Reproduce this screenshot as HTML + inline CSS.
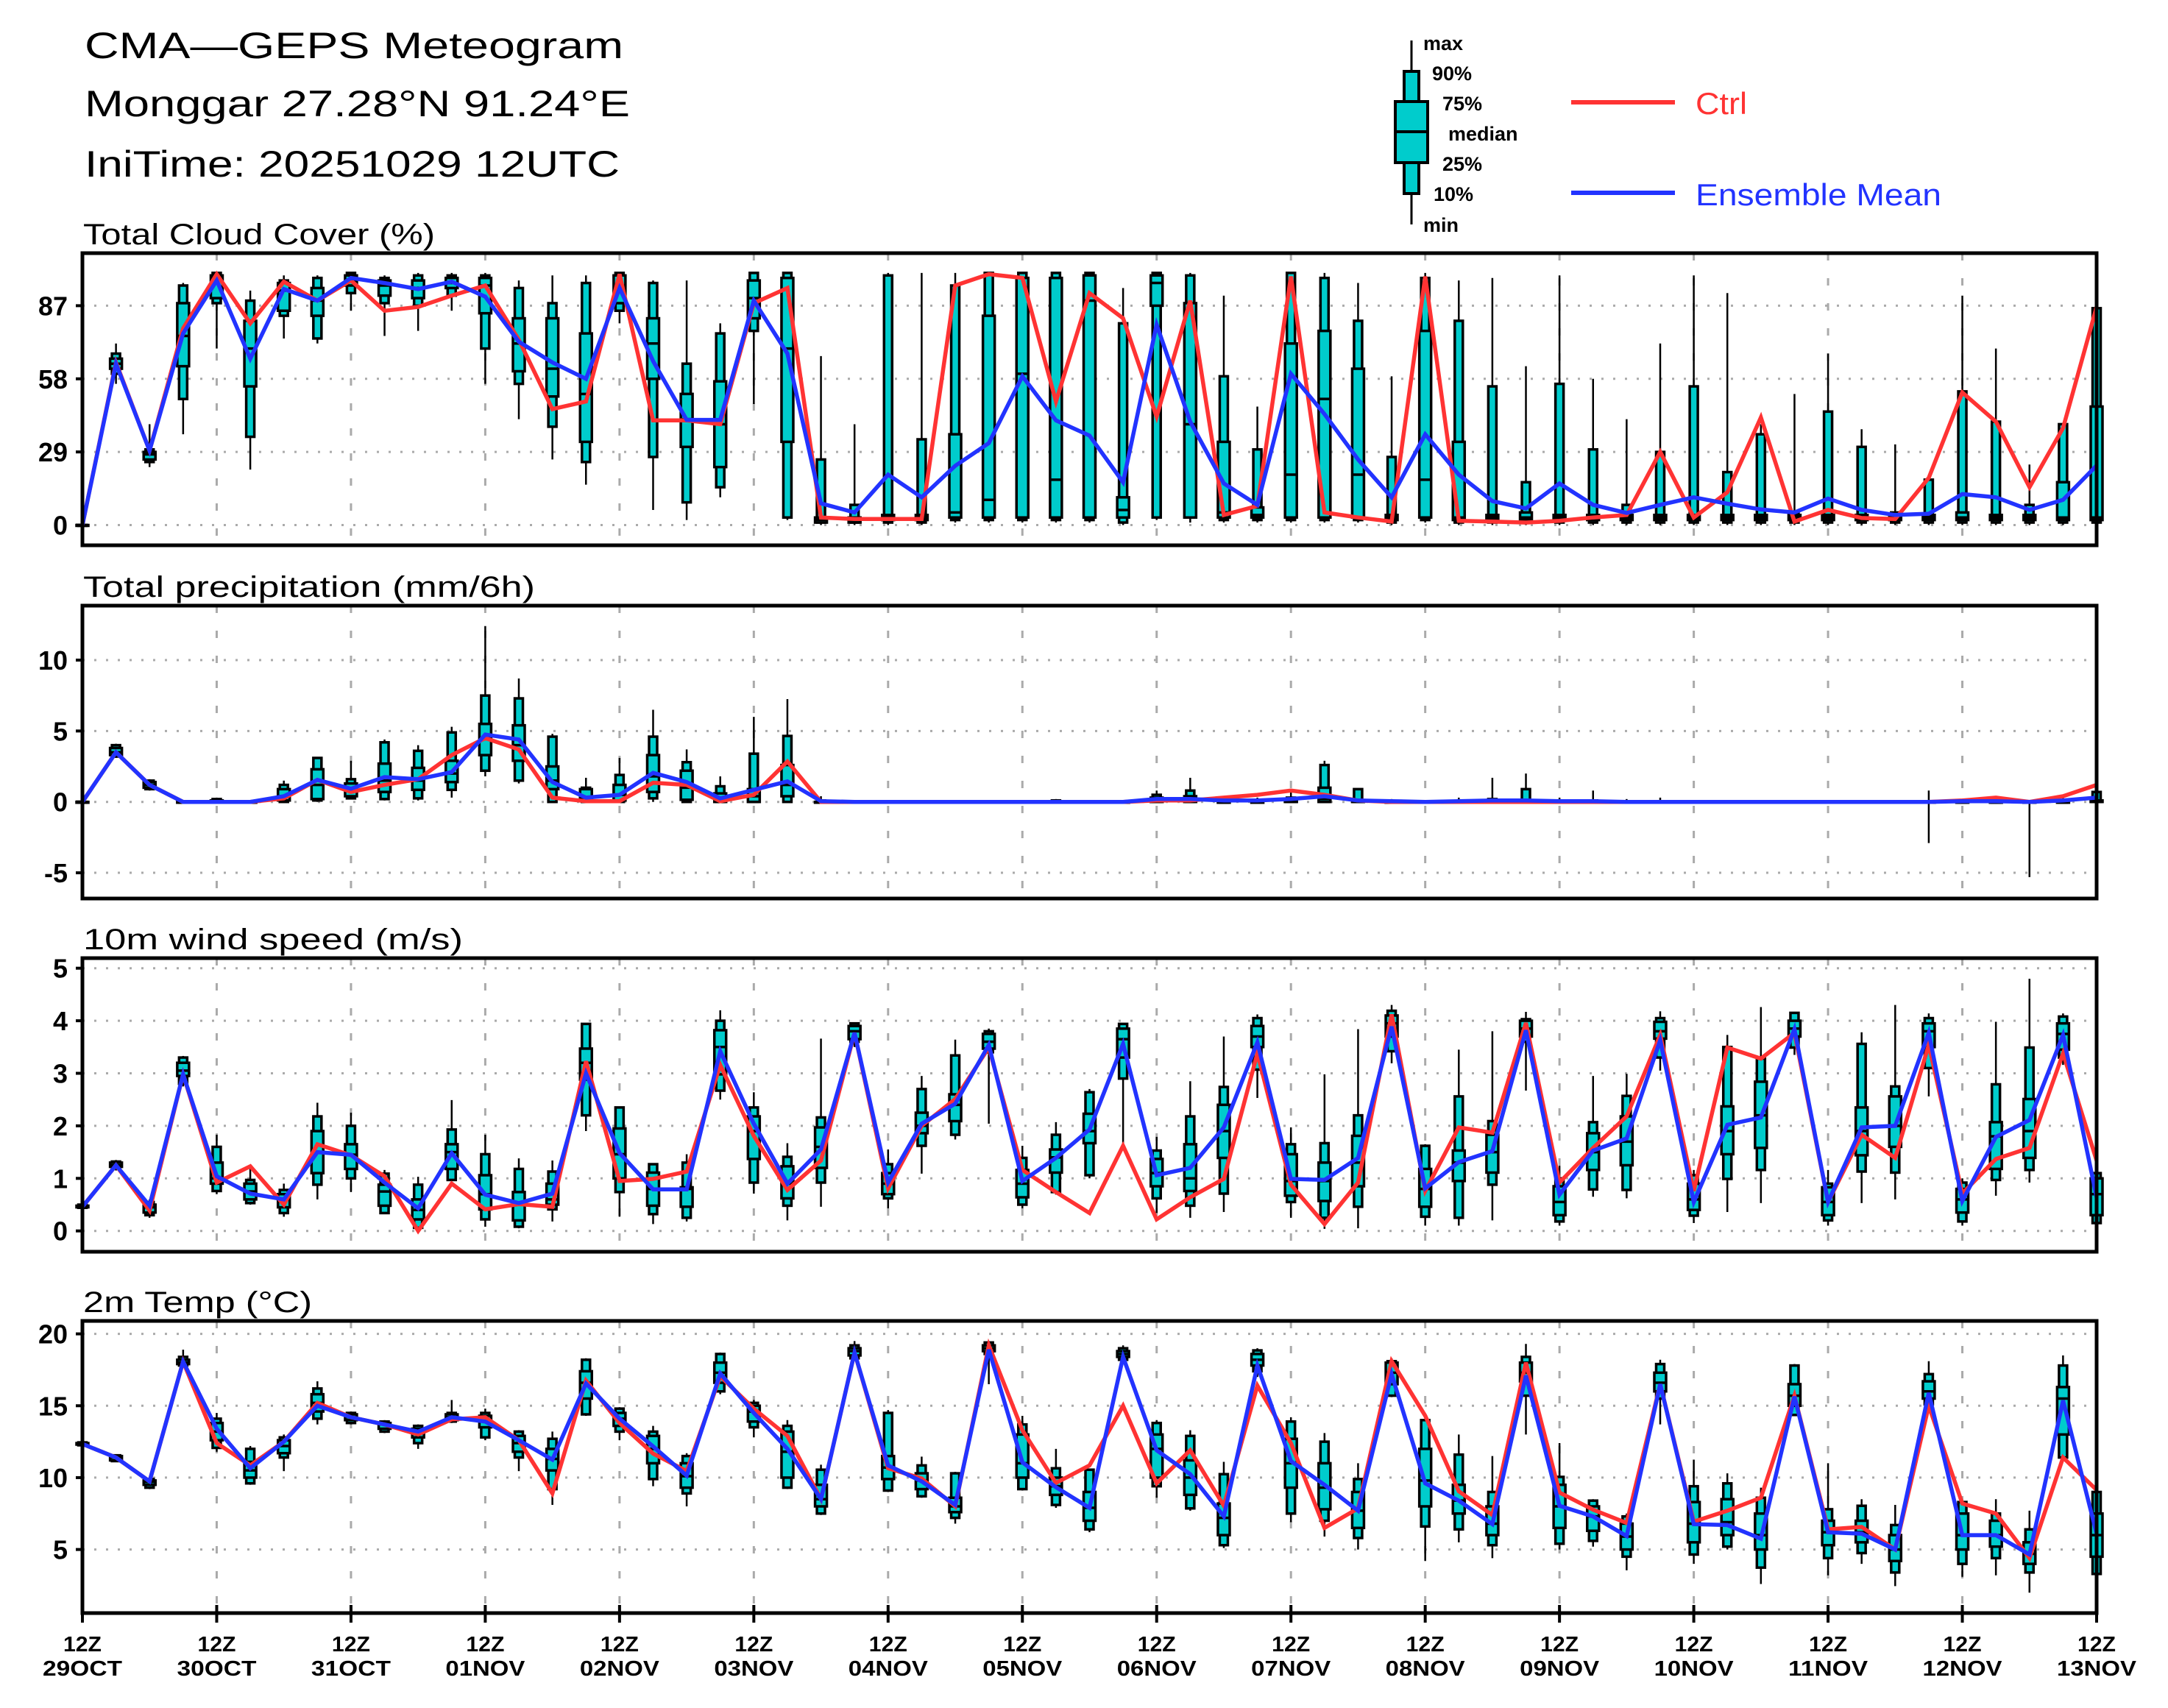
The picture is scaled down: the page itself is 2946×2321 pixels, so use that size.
<!DOCTYPE html>
<html><head><meta charset="utf-8"><title>CMA-GEPS Meteogram</title>
<style>
html,body{margin:0;padding:0;background:#fff;}
svg{display:block;font-family:"Liberation Sans",sans-serif;}
</style></head>
<body>
<svg id="chart" xmlns="http://www.w3.org/2000/svg" width="2946" height="2321" viewBox="0 0 2946 2321">
<rect x="0" y="0" width="2946" height="2321" fill="#fff"/>
<text x="115" y="79" font-size="50" textLength="732" lengthAdjust="spacingAndGlyphs">CMA—GEPS Meteogram</text>
<text x="115" y="158" font-size="50" textLength="741" lengthAdjust="spacingAndGlyphs">Monggar 27.28°N 91.24°E</text>
<text x="115" y="240" font-size="50" textLength="727" lengthAdjust="spacingAndGlyphs">IniTime: 20251029 12UTC</text>
<g id="legend"></g>
<g id="panels"></g>
</svg>
<script>
const NS = "http://www.w3.org/2000/svg";
// ---- data ----
const timeLabels = ["29OCT","30OCT","31OCT","01NOV","02NOV","03NOV","04NOV","05NOV","06NOV","07NOV","08NOV","09NOV","10NOV","11NOV","12NOV","13NOV"];
const cloudCtrl = [0,64.5,29.5,78,99.5,80,96.5,89,97,85,86.5,91,95,73.5,46,49,99.5,41.5,41.5,40,88,94,3,2.4,2.4,2.4,95,99.5,98,49,92,82,43,89,4,7.6,98.6,5,3,1.4,98.6,1.7,1.4,1,1.7,3,4,29,3,13,42.7,1.4,6,2.8,2.4,18.7,52.6,41,15,38.5,86.5];
const cloudMean = [0,64,29.5,76,97,66,93.6,89,98,96,93.6,96.5,90.6,72.7,64.5,58,94,65,41.7,41.7,89,68,8.6,5,20,11,23.5,32.5,59,41.5,35.5,17,79.5,41,16.5,8,60,44,26,11,36,20,9.5,6.6,16.5,8,4.8,8,11,8.5,6.2,5,10.5,6,4,4.5,12.3,11,6,10,23.6];
const cloudBox = [[0,0,0,0,0,0,0],[56,60,62,64,66,68,72],[23,25,26,28,29,30,40],[36,50,63,75,88,95,96],[70,88,90,98,99,100,100],[22,35,55,70,81,89,93],[74,83,85,93,96,97,99],[72,74,83,89,94,98,99],[85,92,95,97,99,100,100],[75,88,91,95,97,98,99],[77,87,90,94,97,99,100],[85,91,94,96,98,99,100],[56,70,84,95,98,99,100],[42,56,61,72,82,94,97],[26,39,51,62,82,88,99],[16,25,33,52,76,96,99],[80,85,88,95,99,100,100],[6,27,58,72,82,96,97],[2,9,31,42,52,64,97],[11,15,23,40,57,76,80],[48,77,82,90,97,100,100],[2,3,33,70,98,100,100],[0,1,1,2,3,26,67],[0,1,1,2,3,8,40],[0,1,2,3,4,99,100],[0,1,2,3,4,34,100],[1,2,3,5,36,95,100],[1,2,3,10,83,100,100],[1,2,3,60,98,100,100],[1,2,3,18,98,100,100],[1,2,3,89,99,100,100],[0,1,3,6,11,80,94],[2,3,87,96,99,100,100],[1,3,3,40,88,99,100],[1,2,3,5,33,59,91],[1,2,3,4,7,30,47],[1,2,3,20,72,100,100],[1,2,3,50,77,98,100],[1,2,3,20,62,81,96],[0,1,2,3,4,27,59],[1,2,3,18,77,98,100],[0,1,2,3,33,81,97],[0,1,2,3,4,55,98],[0,1,2,3,5,17,63],[0,1,2,3,4,56,99],[0,1,2,3,4,30,58],[0,1,2,3,4,8,42],[0,1,2,3,4,29,72],[0,1,2,3,4,55,99],[0,1,2,3,4,21,92],[0,1,2,3,4,36,40],[0,1,2,3,4,5,52],[0,1,2,3,4,45,68],[0,1,2,3,4,31,38],[0,1,2,3,4,5,32],[0,1,2,3,4,18,18],[0,1,2,3,5,53,91],[0,1,2,3,4,41,70],[0,1,2,3,4,8,24],[0,1,2,3,17,40,40],[0,1,2,3,47,86,87]];
const precCtrl = [0,3.5,1.2,0,0,0,0.25,1.55,0.7,1.2,1.6,3.3,4.5,3.7,0.3,0.05,0.05,1.35,1.2,0.05,0.5,2.85,0,0,0,0,0,0,0,0,0,0,0.1,0.1,0.3,0.5,0.8,0.5,0.1,0,0,0,0,0,0,0,0,0,0,0,0,0,0,0,0,0,0.1,0.3,0,0.4,1.2];
const precMean = [0,3.5,1.2,0,0,0,0.4,1.55,0.93,1.75,1.6,2.1,4.75,4.4,1.4,0.3,0.5,2.05,1.4,0.25,0.85,1.45,0.05,0,0,0,0,0,0,0,0,0,0.2,0.2,0.1,0.1,0.2,0.4,0.1,0.05,0,0.05,0.1,0.1,0.05,0.05,0,0,0,0,0,0,0,0,0,0,0.05,0.05,0,0.1,0.3];
const precBox = [[0,0,0,0,0,0,0],[3.1,3.2,3.3,3.5,3.8,4.0,4.1],[0.8,0.9,1.0,1.2,1.4,1.5,1.6],[0,0,0,0,0,0,0.1],[0,0,0,0,0.1,0.2,0.3],[0,0,0,0,0,0,0.1],[0,0,0.1,0.4,0.9,1.2,1.5],[0,0.1,0.2,1.2,2.3,3.1,3.1],[0.2,0.25,0.4,0.8,1.3,1.6,2.9],[0.1,0.2,0.7,1.5,2.7,4.2,4.4],[0.1,0.25,0.85,1.5,2.4,3.6,4.0],[0.3,0.85,1.4,2.0,2.9,4.9,5.3],[1.8,2.2,3.3,4.5,5.5,7.5,12.4],[1.3,1.5,2.9,4.0,5.4,7.3,8.7],[0,0,0.9,1.5,2.5,4.6,4.8],[0,0,0.05,0.2,0.9,1.0,1.7],[0,0,0.1,0.5,1.2,1.9,3.1],[0,0.25,0.7,1.8,3.3,4.6,6.5],[0,0,0.15,1.0,2.2,2.8,3.7],[0,0,0,0.2,0.6,1.1,1.8],[0,0,0,0.4,0.9,3.4,6.0],[0,0,0.4,1.2,2.6,4.65,7.25],[0,0,0,0,0,0.1,0.4],[0,0,0,0,0,0,0],[0,0,0,0,0,0,0],[0,0,0,0,0,0,0],[0,0,0,0,0,0,0.1],[0,0,0,0,0,0,0],[0,0,0,0,0,0,0],[0,0,0,0,0,0.1,0.2],[0,0,0,0,0,0,0],[0,0,0,0,0,0,0],[0,0,0,0.1,0.3,0.5,0.8],[0,0,0,0.1,0.4,0.8,1.7],[0,0,0,0,0,0,0.2],[0,0,0,0,0,0.1,0.3],[0,0,0,0,0.1,0.3,0.8],[0,0,0,0.2,1.0,2.6,2.9],[0,0,0,0,0.1,0.9,0.9],[0,0,0,0,0,0,0.2],[0,0,0,0,0,0,0],[0,0,0,0,0,0,0.3],[0,0,0,0,0,0.2,1.7],[0,0,0,0,0.1,0.9,2.0],[0,0,0,0,0,0,0.3],[0,0,0,0,0,0.1,0.8],[0,0,0,0,0,0,0.2],[0,0,0,0,0,0,0.3],[0,0,0,0,0,0,0],[0,0,0,0,0,0,0],[0,0,0,0,0,0,0],[0,0,0,0,0,0,0],[0,0,0,0,0,0,0],[0,0,0,0,0,0,0],[0,0,0,0,0,0,0],[-2.9,0,0,0,0,0,0.8],[0,0,0,0,0,0,0.2],[0,0,0,0,0,0,0.3],[-5.3,0,0,0,0,0,0],[0,0,0,0,0,0,0.3],[0,0,0,0,0.1,0.7,1.0]];
const windCtrl = [0.46,1.25,0.39,2.98,0.92,1.23,0.5,1.65,1.44,1.04,0,0.9,0.41,0.51,0.46,3.23,0.95,0.99,1.13,3.16,1.81,0.78,1.34,3.77,0.81,2.0,2.51,3.49,1.16,0.74,0.34,1.62,0.22,0.64,0.99,3.38,0.88,0.13,0.92,4.12,0.76,1.97,1.87,3.96,0.92,1.58,2.18,3.73,0.76,3.49,3.28,3.77,0.55,1.83,1.39,3.54,0.71,1.37,1.58,3.38,1.34];
const windMean = [0.46,1.25,0.48,2.98,1.04,0.71,0.6,1.5,1.45,0.92,0.43,1.48,0.69,0.53,0.71,3.0,1.48,0.79,0.79,3.42,2.04,0.9,1.55,3.77,0.92,2.04,2.42,3.54,0.95,1.39,1.93,3.56,1.06,1.2,1.97,3.59,0.99,0.97,1.39,3.89,0.81,1.31,1.52,3.82,0.69,1.53,1.76,3.63,0.55,2.02,2.16,3.84,0.55,1.97,2.0,3.77,0.57,1.79,2.11,3.73,0.64];
const windBox = [[0.42,0.44,0.45,0.46,0.48,0.5,0.52],[1.15,1.2,1.22,1.25,1.3,1.32,1.35],[0.25,0.3,0.35,0.45,0.5,0.55,0.6],[2.75,2.8,2.95,3.05,3.2,3.3,3.33],[0.7,0.76,0.9,1.0,1.3,1.6,1.83],[0.5,0.53,0.6,0.75,0.9,0.97,1.18],[0.27,0.34,0.45,0.6,0.7,0.78,0.9],[0.6,0.88,1.1,1.5,1.9,2.18,2.44],[0.74,1.0,1.18,1.45,1.65,2.0,2.25],[0.32,0.34,0.48,0.75,0.88,1.09,1.16],[0.05,0.06,0.22,0.4,0.6,0.88,1.03],[0.95,0.97,1.18,1.5,1.65,1.93,2.49],[0.08,0.22,0.41,0.7,1.06,1.46,1.83],[0.05,0.08,0.2,0.5,0.74,1.18,1.38],[0.18,0.41,0.5,0.6,0.9,1.13,1.34],[1.9,2.2,2.88,3.2,3.47,3.94,3.94],[0.27,0.74,1.0,1.46,1.95,2.35,2.35],[0.13,0.32,0.48,0.8,1.11,1.27,1.27],[0.18,0.25,0.46,0.8,0.83,1.3,1.46],[2.5,2.67,2.98,3.5,3.82,4.0,4.2],[0.71,0.92,1.37,1.9,2.18,2.35,2.64],[0.2,0.48,0.62,0.9,1.23,1.41,1.67],[0.46,0.92,1.2,1.6,1.97,2.16,3.66],[3.5,3.6,3.65,3.8,3.9,3.95,3.95],[0.43,0.62,0.7,0.9,1.1,1.27,1.55],[1.09,1.62,1.86,2.0,2.25,2.7,2.95],[1.74,1.83,2.09,2.4,2.6,3.34,3.64],[2.04,3.4,3.47,3.6,3.75,3.8,3.85],[0.43,0.5,0.64,0.9,1.16,1.39,1.62],[0.69,0.74,1.11,1.4,1.55,1.83,2.07],[1.0,1.06,1.67,1.9,2.23,2.64,2.7],[1.6,2.9,3.3,3.65,3.85,3.94,3.94],[0.34,0.62,0.85,1.1,1.37,1.53,1.79],[0.25,0.48,0.76,1.0,1.65,2.18,2.85],[0.36,0.71,1.39,1.9,2.4,2.74,3.7],[2.53,3.07,3.5,3.7,3.9,4.05,4.12],[0.25,0.55,0.67,0.95,1.46,1.65,1.97],[0.04,0.25,0.57,0.95,1.3,1.67,2.98],[0.05,0.46,0.85,1.3,1.81,2.2,3.84],[3.19,3.42,3.7,3.95,4.1,4.19,4.3],[0.1,0.27,0.46,0.8,1.18,1.62,1.65],[0.1,0.25,0.95,1.3,1.53,2.56,3.45],[0.2,0.88,1.11,1.5,1.83,2.09,3.8],[2.67,3.6,3.7,3.85,4.0,4.03,4.17],[0.1,0.18,0.3,0.55,0.85,1.0,1.24],[0.65,0.79,1.16,1.5,1.86,2.07,2.95],[0.62,0.78,1.25,1.7,2.18,2.57,2.99],[3.05,3.3,3.66,3.8,3.98,4.05,4.18],[0.15,0.29,0.4,0.6,0.9,1.06,1.16],[0.36,0.99,1.46,1.9,2.37,3.5,3.73],[0.53,1.16,1.58,2.2,2.84,3.28,4.26],[3.35,3.49,3.7,3.85,4.0,4.15,4.17],[0.1,0.2,0.3,0.55,0.83,0.9,1.16],[0.53,1.13,1.44,1.9,2.35,3.56,3.78],[0.6,1.11,1.6,2.0,2.56,2.75,4.3],[2.56,3.1,3.5,3.8,3.95,4.05,4.14],[0.1,0.18,0.35,0.6,0.8,0.92,1.0],[0.67,0.97,1.18,1.8,2.07,2.79,3.98],[0.92,1.16,1.39,1.9,2.51,3.49,4.8],[3.16,3.3,3.45,3.75,3.95,4.08,4.14],[0.1,0.15,0.3,0.7,1.0,1.1,1.1]];
const tempCtrl = [12.34,11.4,9.74,18.07,12.4,10.85,12.5,15.2,14.2,13.7,13.0,14.05,14.2,12.6,8.9,16.75,13.8,11.67,10.45,17.05,14.8,12.9,8.5,18.7,10.65,9.94,8.0,19.2,13.3,9.63,10.85,15.0,9.6,11.9,8.04,16.4,12.4,6.5,7.86,18.1,14.3,9.05,7.4,18.0,8.96,7.77,6.85,16.5,6.94,7.7,8.6,15.7,6.4,6.57,5.0,15.0,8.2,7.5,4.4,11.4,9.14];
const tempMean = [12.34,11.4,9.74,18.07,13.4,10.65,12.5,15.0,14.2,13.7,13.2,14.2,13.9,12.6,11.25,16.55,14.1,12.17,10.14,17.25,14.5,12.0,8.5,18.7,10.85,9.74,8.1,18.9,11.06,9.33,7.9,18.4,11.9,10.24,7.3,17.8,11.15,9.5,7.7,17.2,9.6,8.4,6.76,17.1,8.04,7.3,5.93,16.5,6.76,6.7,5.75,15.64,6.2,6.1,5.0,15.9,6.0,6.0,4.65,15.36,6.1];
const tempBox = [[12.2,12.25,12.3,12.35,12.4,12.45,12.5],[11.1,11.15,11.2,11.4,11.5,11.55,11.6],[9.2,9.3,9.5,9.7,9.8,9.9,10.0],[17.7,17.8,17.9,18.0,18.2,18.4,18.9],[11.8,12.07,12.6,13.2,13.8,14.1,14.5],[9.5,9.6,10.0,10.5,11.1,12.0,12.2],[10.45,11.4,11.7,12.2,12.6,12.8,13.0],[13.7,14.1,14.6,15.2,15.8,16.2,16.7],[13.7,13.8,14.0,14.2,14.4,14.5,14.6],[13.1,13.2,13.4,13.7,13.8,13.9,14.0],[12.0,12.4,12.8,13.1,13.4,13.6,13.7],[13.8,13.9,14.0,14.2,14.4,14.5,15.4],[12.6,12.8,13.5,13.9,14.3,14.5,14.8],[10.45,11.4,11.8,12.4,12.9,13.2,13.3],[8.1,9.2,10.5,11.3,12.0,12.7,13.2],[14.3,14.4,15.5,16.6,17.4,18.2,18.3],[12.6,13.2,13.6,14.1,14.5,14.8,14.9],[9.4,9.9,11.0,12.0,12.9,13.2,13.6],[8.0,8.9,9.3,10.1,11.0,11.5,11.7],[15.8,16.0,16.6,17.3,18.0,18.6,18.7],[12.8,13.5,13.9,14.6,15.0,15.2,15.4],[9.2,9.3,10.0,11.8,13.2,13.6,14.0],[7.4,7.5,8.0,8.5,9.5,10.55,10.9],[18.2,18.3,18.5,18.8,19.0,19.2,19.5],[9.0,9.1,9.9,10.7,11.5,14.5,14.7],[8.6,8.7,9.2,9.8,10.3,10.85,11.46],[6.8,7.2,7.6,8.0,8.6,10.3,10.4],[16.5,18.6,18.8,19.0,19.2,19.4,19.5],[9.1,9.2,10.0,11.0,13.0,13.7,14.3],[7.9,8.1,8.8,9.4,10.0,10.65,12.0],[6.2,6.4,7.0,7.9,9.0,10.55,10.6],[18.0,18.2,18.4,18.6,18.8,19.0,19.2],[8.6,9.4,10.0,12.0,13.0,13.8,14.0],[7.7,7.86,8.8,10.0,11.2,12.9,13.3],[5.1,5.3,6.0,7.2,8.2,10.24,11.1],[17.0,17.4,17.8,18.2,18.6,18.85,19.0],[6.9,7.5,9.3,11.0,12.7,13.9,14.2],[5.9,7.0,7.8,9.3,11.0,12.5,13.1],[5.0,5.8,6.5,7.7,9.0,9.9,11.0],[15.6,15.7,16.5,17.3,18.0,18.1,18.3],[4.2,6.6,8.0,9.8,12.0,14.0,14.1],[5.5,6.4,7.5,8.4,9.5,11.6,13.0],[4.4,5.3,6.0,6.8,8.0,9.0,11.5],[13.0,15.7,16.7,17.3,18.0,18.4,19.3],[5.0,5.4,6.5,8.0,9.5,10.05,12.4],[5.2,5.6,6.3,7.3,8.0,8.4,8.5],[3.55,4.5,5.0,5.9,6.8,7.3,7.5],[13.7,15.5,16.0,16.6,17.3,17.9,18.2],[4.0,4.65,5.5,6.8,8.3,9.4,11.25],[5.0,5.2,6.0,6.9,8.5,9.6,10.3],[2.6,3.74,5.0,6.0,7.5,8.6,9.3],[14.3,14.36,15.0,15.7,16.5,17.8,17.9],[3.2,4.4,5.3,6.2,7.0,7.8,11.0],[4.0,4.75,5.5,6.2,7.0,8.04,8.5],[2.45,3.4,4.2,5.0,6.0,6.7,8.1],[15.0,15.1,15.5,16.0,16.7,17.2,18.1],[3.1,4.0,5.0,6.0,7.5,8.3,8.3],[3.2,4.4,5.2,6.0,7.0,7.5,8.5],[2.0,3.4,4.0,4.7,5.5,6.4,7.7],[11.2,11.4,13.0,15.5,16.3,17.8,18.5],[3.3,3.3,4.5,6.0,7.5,9.0,9.2]];
const cloudTicks = [0,29,58,87];
const precTicks = [-5,0,5,10];
const windTicks = [0,1,2,3,4,5];
const tempTicks = [5,10,15,20];

// ---- layout ----
const X0 = 112, X1 = 2849, NSTEP = 60;
function xAt(i){ return X0 + (X1 - X0) * i / NSTEP; }
function makeY(v0, y0, v1, y1){ return v => y0 + (v - v0) * (y1 - y0) / (v1 - v0); }

const panels = [
  {name:"cloud", title:"Total Cloud Cover (%)", titleY:332, titleW:478, top:344, bottom:741, y:makeY(0,713.5,87,415.4), ticks:cloudTicks, ctrl:cloudCtrl, mean:cloudMean, box:cloudBox},
  {name:"precip", title:"Total precipitation (mm/6h)", titleY:811, titleW:614, top:823, bottom:1221, y:makeY(0,1089.7,10,897), ticks:precTicks, ctrl:precCtrl, mean:precMean, box:precBox},
  {name:"wind", title:"10m wind speed (m/s)", titleY:1290, titleW:516, top:1302, bottom:1701, y:makeY(0,1672.7,5,1315.7), ticks:windTicks, ctrl:windCtrl, mean:windMean, box:windBox},
  {name:"temp", title:"2m Temp (°C)", titleY:1783, titleW:311, top:1795, bottom:2192, y:makeY(20,1812.6,5,2105.6), ticks:tempTicks, ctrl:tempCtrl, mean:tempMean, box:tempBox}
];

function el(tag, attrs, parent){
  const e = document.createElementNS(NS, tag);
  for (const k in attrs) e.setAttribute(k, attrs[k]);
  parent.appendChild(e);
  return e;
}

const root = document.getElementById("panels");
panels.forEach(p => {
  const g = el("g", {}, root);
  
  
  const t = el("text", {x:113, y:p.titleY, "font-size":40, textLength:p.titleW, lengthAdjust:"spacingAndGlyphs"}, g);
  
  
  t.textContent = p.title;
  // horizontal grid + y ticks
  p.ticks.forEach(v => {
    const yy = p.y(v);
    const gl = el("line", {x1:X0, x2:X1, y1:yy, y2:yy, stroke:"#aaaaaa", "stroke-width":3, "stroke-dasharray":"3 13"}, g);
    
    
    const tk = el("line", {x1:X0-9, x2:X0, y1:yy, y2:yy, stroke:"#000", "stroke-width":4}, g);
    
    
    const lb = el("text", {x:92, y:yy+13, "font-size":36, "font-weight":"bold", "text-anchor":"end"}, g);
    
    
    lb.textContent = String(v);
  });
  // vertical day grid
  for (let d = 1; d < 15; d++){
    const xx = xAt(d*4);
    const vl = el("line", {x1:xx, x2:xx, y1:p.top, y2:p.bottom, stroke:"#aaaaaa", "stroke-width":3, "stroke-dasharray":"10 24"}, g);
    
    
  }
  // boxes
  p.box.forEach((s, i) => {
    const xx = xAt(i);
    const bg = el("g", {}, g);
    
    
    el("line", {x1:xx, x2:xx, y1:p.y(s[6]), y2:p.y(s[0]), stroke:"#000", "stroke-width":2.5}, bg);
    const r1t = Math.min(p.y(s[5]), p.y(s[1])), r1h = Math.abs(p.y(s[1]) - p.y(s[5]));
    el("rect", {x:xx-5.5, y:r1t, width:11, height:Math.max(r1h,1), fill:"#00cccc", stroke:"#000", "stroke-width":3.5}, bg);
    const r2t = Math.min(p.y(s[4]), p.y(s[2])), r2h = Math.abs(p.y(s[2]) - p.y(s[4]));
    el("rect", {x:xx-8, y:r2t, width:16, height:Math.max(r2h,1), fill:"#00cccc", stroke:"#000", "stroke-width":3.5}, bg);
    el("line", {x1:xx-8, x2:xx+8, y1:p.y(s[3]), y2:p.y(s[3]), stroke:"#000", "stroke-width":3.5}, bg);
  });
  // lines
  const ptsC = p.ctrl.map((v,i) => xAt(i).toFixed(1) + "," + p.y(v).toFixed(1)).join(" ");
  const lc = el("polyline", {points:ptsC, fill:"none", stroke:"#ff3333", "stroke-width":5.5, "stroke-linejoin":"miter"}, g);
  
  
  const ptsM = p.mean.map((v,i) => xAt(i).toFixed(1) + "," + p.y(v).toFixed(1)).join(" ");
  const lm = el("polyline", {points:ptsM, fill:"none", stroke:"#2233ff", "stroke-width":5.5, "stroke-linejoin":"miter"}, g);
  
  
  // frame
  const fr = el("rect", {x:X0, y:p.top, width:X1-X0, height:p.bottom-p.top, fill:"none", stroke:"#000", "stroke-width":5}, g);
  
  
});

// x axis labels on bottom panel
const axg = el("g", {}, root);


timeLabels.forEach((lab, d) => {
  const xx = xAt(d*4);
  const tk = el("line", {x1:xx, x2:xx, y1:2181, y2:2205, stroke:"#000", "stroke-width":4}, axg);
  
  
  const t1 = el("text", {x:xx, y:2244, "font-size":29, "font-weight":"bold", "text-anchor":"middle", textLength:52, lengthAdjust:"spacingAndGlyphs"}, axg);
  
  
  t1.textContent = "12Z";
  const t2 = el("text", {x:xx, y:2277, "font-size":29, "font-weight":"bold", "text-anchor":"middle", textLength:108, lengthAdjust:"spacingAndGlyphs"}, axg);
  
  
  t2.textContent = lab;
});

// legend
const lg = document.getElementById("legend");
const LX = 1918;
el("line", {x1:LX, x2:LX, y1:55, y2:305, stroke:"#000", "stroke-width":3}, lg);
el("rect", {x:LX-10, y:97, width:20, height:166, fill:"#00cccc", stroke:"#000", "stroke-width":4}, lg);
el("rect", {x:LX-22, y:138, width:44, height:83, fill:"#00cccc", stroke:"#000", "stroke-width":4}, lg);
el("line", {x1:LX-22, x2:LX+22, y1:179, y2:179, stroke:"#000", "stroke-width":4}, lg);
[["max",1934,68],["90%",1946,109],["75%",1960,150],["median",1968,191],["25%",1960,232],["10%",1948,273],["min",1934,315]].forEach(a => {
  const t = el("text", {x:a[1], y:a[2], "font-size":27, "font-weight":"bold"}, lg);
  
  
  t.textContent = a[0];
});
const l1 = el("line", {x1:2135, x2:2276, y1:139, y2:139, stroke:"#ff3333", "stroke-width":6}, lg);


const lt1 = el("text", {x:2304, y:155, "font-size":42, fill:"#ff3333", textLength:70, lengthAdjust:"spacingAndGlyphs"}, lg);


lt1.textContent = "Ctrl";
const l2 = el("line", {x1:2135, x2:2276, y1:262, y2:262, stroke:"#2233ff", "stroke-width":6}, lg);


const lt2 = el("text", {x:2304, y:279, "font-size":42, fill:"#2233ff", textLength:334, lengthAdjust:"spacingAndGlyphs"}, lg);


lt2.textContent = "Ensemble Mean";
</script>
</body></html>
